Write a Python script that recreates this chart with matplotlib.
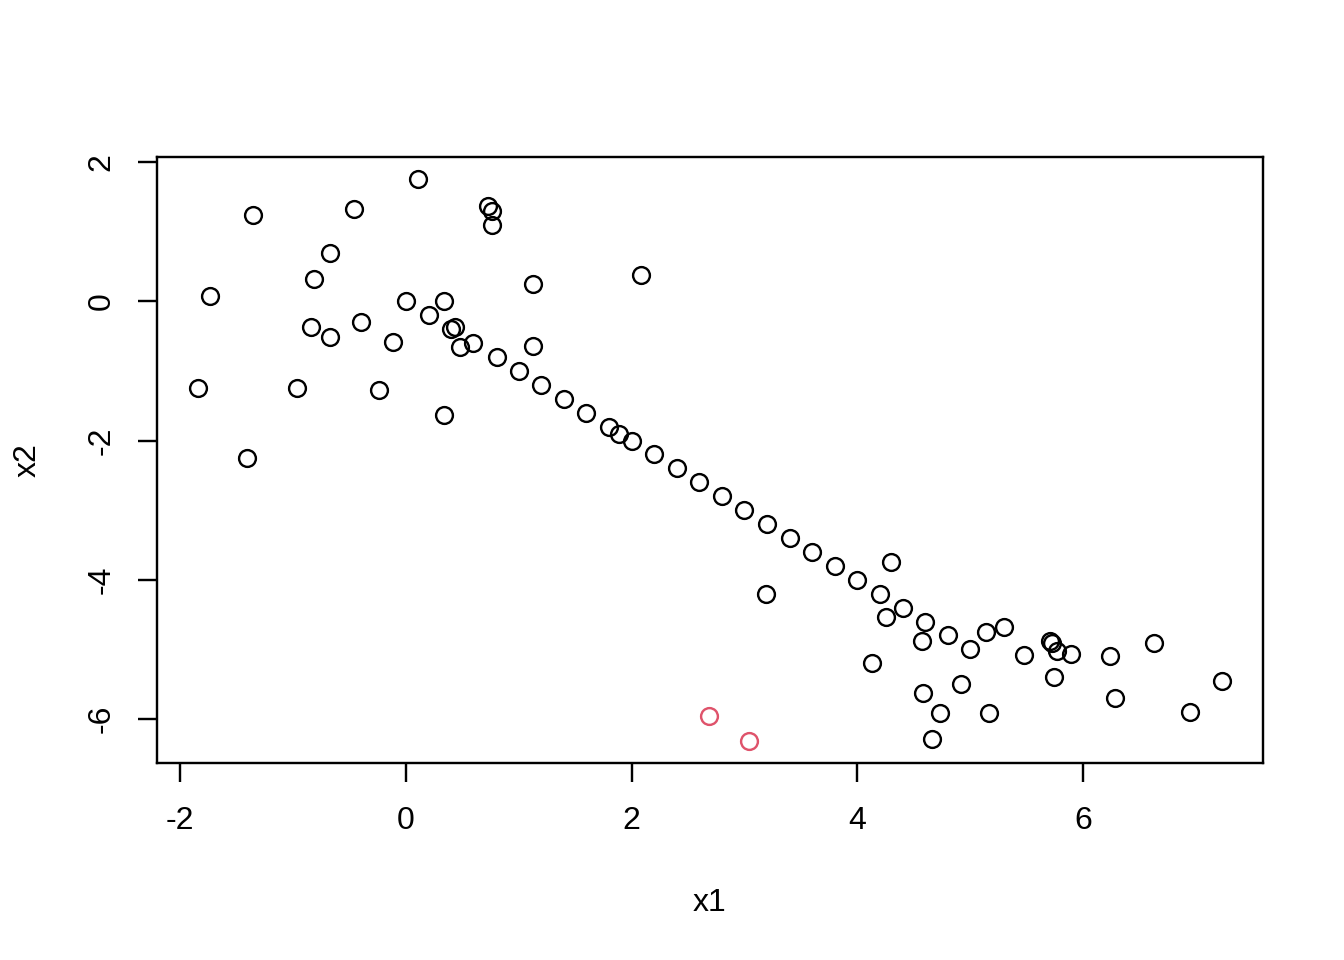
import matplotlib
matplotlib.use("Agg")
import matplotlib.pyplot as plt

plt.rcParams["font.family"] = ["Liberation Sans", "DejaVu Sans"]

# points (x1, x2)
x1 = [0.106, -1.356, -0.46, 0.726, 0.762, 0.762, -0.673, 2.08, -1.736, -0.815,
      1.125, 0.0, 0.337, 0.204, -0.399, -0.842, 0.40, 0.434, -0.673, -0.115,
      0.478, 0.60, 1.125, 0.806, 1.0, 1.2, 1.4, 1.6, 1.8, 1.89,
      2.0, 2.2, 2.4, 2.6, 2.8, 3.0, 3.2, 3.4, 3.6, 3.8,
      4.0, 4.2, 4.4, 4.6, 4.8, 5.0, 4.30, 3.19, -1.84, -0.966,
      -0.24, 0.337, -1.41, 4.25, 4.57, 4.13, 5.30, 5.14, 5.475, 5.705,
      5.72, 5.77, 5.89, 6.24, 6.63, 5.74, 6.28, 7.23, 4.58, 4.92,
      4.73, 5.17, 4.66, 6.95]
x2 = [1.75, 1.235, 1.32, 1.364, 1.29, 1.09, 0.70, 0.373, 0.07, 0.316,
      0.244, 0.0, 0.0, -0.2, -0.30, -0.373, -0.40, -0.373, -0.517, -0.589,
      -0.66, -0.60, -0.646, -0.80, -1.0, -1.2, -1.4, -1.6, -1.8, -1.91,
      -2.0, -2.2, -2.4, -2.6, -2.8, -3.0, -3.2, -3.4, -3.6, -3.8,
      -4.0, -4.2, -4.4, -4.6, -4.8, -5.0, -3.75, -4.21, -1.25, -1.25,
      -1.28, -1.64, -2.25, -4.54, -4.88, -5.2, -4.68, -4.75, -5.08, -4.88,
      -4.91, -5.03, -5.07, -5.10, -4.91, -5.40, -5.70, -5.46, -5.63, -5.50,
      -5.92, -5.92, -6.29, -5.90]

# the two highlighted points
red_x1 = [2.69, 3.04]
red_x2 = [-5.96, -6.31]

xticks = [-2, 0, 2, 4, 6]
yticks = [-6, -4, -2, 0, 2]

fig = plt.figure(figsize=(7, 5), dpi=192)
ax = fig.add_axes([157 / 1344, 1 - 763 / 960, (1263 - 157) / 1344, (763 - 157) / 960])

ax.plot(x1, x2, linestyle="none", marker="o", markersize=6.3,
        markerfacecolor="none", markeredgecolor="black", markeredgewidth=0.9)
ax.plot(red_x1, red_x2, linestyle="none", marker="o", markersize=6.3,
        markerfacecolor="none", markeredgecolor="#DF536B", markeredgewidth=0.9)

# R pads the data range by 4% each side
allx = x1 + red_x1
ally = x2 + red_x2
dx = (max(allx) - min(allx)) * 0.04
dy = (max(ally) - min(ally)) * 0.04
ax.set_xlim(min(allx) - dx, max(allx) + dx)
ax.set_ylim(min(ally) - dy, max(ally) + dy)

ax.set_xticks(xticks)
ax.set_xticklabels([str(t) for t in xticks])
ax.set_yticks(yticks)
ax.set_yticklabels([str(t) for t in yticks], rotation=90, va="center")
ax.tick_params(direction="out", length=7.2, width=0.9, labelsize=12, color="black")
ax.tick_params(axis="x", pad=9)
ax.tick_params(axis="y", pad=8)
for s in ax.spines.values():
    s.set_linewidth(0.9)

fig.text(710 / 1344, 1 - 903 / 960, "x1", ha="center", va="center", fontsize=12)
fig.text(28 / 1344, 1 - 460 / 960, "x2", ha="center", va="center", fontsize=12, rotation=90)

fig.savefig("out.png", dpi=192, facecolor="white")
